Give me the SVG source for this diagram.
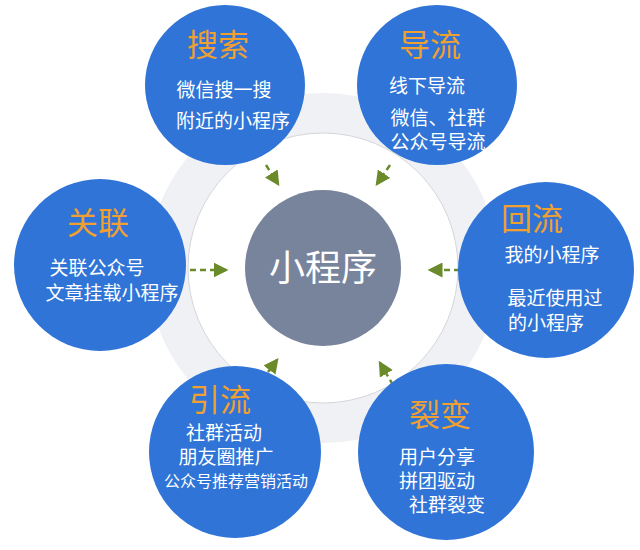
<svg xmlns="http://www.w3.org/2000/svg" width="640" height="550" viewBox="0 0 640 550">
<defs>
<marker id="ah" markerWidth="6" markerHeight="6" refX="5" refY="3" orient="auto" markerUnits="strokeWidth">
<path d="M0,0 L6,3 L0,6 z" fill="#6b8a2a"/>
</marker>
<style>
.blue{fill:#2f74d6}
.t{font-family:"Noto Sans CJK SC",sans-serif;fill:#fff;text-anchor:middle;font-size:19px}
.h{font-family:"Noto Sans CJK SC",sans-serif;fill:#f0a030;text-anchor:middle;font-size:31px}
.c{stroke:#6b8a2a;stroke-width:2.5;stroke-dasharray:6 4;fill:none;marker-end:url(#ah)}
</style>
</defs>
<rect width="640" height="550" fill="#fff"/>
<g id="ring">
<circle cx="323" cy="268" r="175" fill="#f0f1f4"/>
<circle cx="323" cy="268" r="135" fill="#fff" stroke="#d4d6da" stroke-width="1"/>
</g>
<g id="center">
<circle cx="323" cy="268" r="78" fill="#78849c"/>
<text x="323" y="281" class="t" style="font-size:36px">小程序</text>
</g>
<g id="connectors">
<line x1="266" y1="165" x2="278" y2="184" class="c"/>
<line x1="390" y1="165" x2="377" y2="184" class="c"/>
<line x1="190" y1="270" x2="226" y2="270" class="c"/>
<line x1="470" y1="270" x2="430" y2="270" class="c"/>
<line x1="268" y1="372" x2="277" y2="360" class="c"/>
<line x1="393" y1="385" x2="380" y2="363" class="c"/>
</g>
<g id="search">
<circle cx="225" cy="85" r="80" class="blue"/>
<text x="218" y="56" class="h">搜索</text>
<text x="224" y="97" class="t">微信搜一搜</text>
<text x="233" y="128" class="t">附近的小程序</text>
</g>
<g id="daoliu">
<circle cx="437" cy="85" r="80" class="blue"/>
<text x="430" y="56" class="h">导流</text>
<text x="427" y="93" class="t">线下导流</text>
<text x="438" y="125" class="t">微信、社群</text>
<text x="438" y="149" class="t">公众号导流</text>
</g>
<g id="guanlian">
<circle cx="100" cy="265" r="86" class="blue"/>
<text x="98" y="234" class="h">关联</text>
<text x="97" y="275" class="t">关联公众号</text>
<text x="112" y="300" class="t">文章挂载小程序</text>
</g>
<g id="huiliu">
<circle cx="546" cy="270" r="88" class="blue"/>
<text x="532" y="230" class="h">回流</text>
<text x="552" y="262" class="t">我的小程序</text>
<text x="555" y="305" class="t">最近使用过</text>
<text x="546" y="330" class="t">的小程序</text>
</g>
<g id="yinliu">
<circle cx="235" cy="452" r="86" class="blue"/>
<text x="220" y="411" class="h">引流</text>
<text x="224" y="440" class="t">社群活动</text>
<text x="226" y="464" class="t">朋友圈推广</text>
<text x="236" y="487" class="t" style="font-size:16px">公众号推荐营销活动</text>
</g>
<g id="liebian">
<circle cx="446" cy="452" r="88" class="blue"/>
<text x="440" y="426" class="h">裂变</text>
<text x="437" y="464" class="t">用户分享</text>
<text x="437" y="488" class="t">拼团驱动</text>
<text x="447" y="512" class="t">社群裂变</text>
</g>
</svg>
